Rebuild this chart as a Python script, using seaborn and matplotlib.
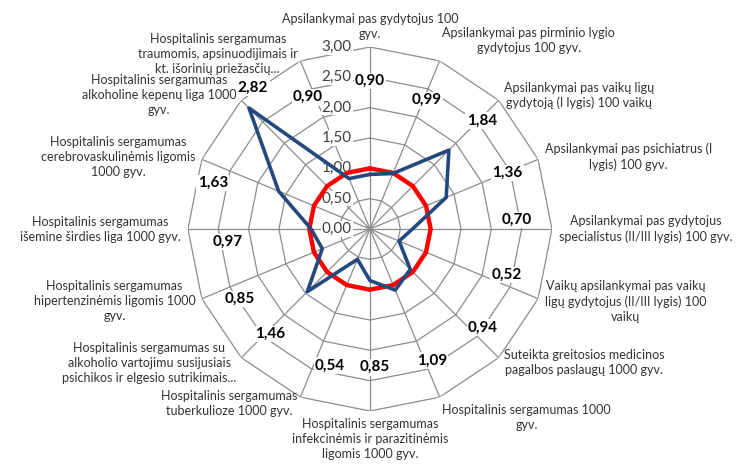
import numpy as np
import matplotlib
matplotlib.use("Agg")
import matplotlib.pyplot as plt
import seaborn as sns

# rodikliai (kategorijos) ir reiksmes
kategorijos = [
    "Apsilankymai pas gydytojus 100\ngyv.",
    "Apsilankymai pas pirminio lygio\ngydytojus 100 gyv.",
    "Apsilankymai pas vaikų ligų\ngydytoją (I lygis) 100 vaikų",
    "Apsilankymai pas psichiatrus (I\nlygis) 100 gyv.",
    "Apsilankymai pas gydytojus\nspecialistus (II/III lygis) 100 gyv.",
    "Vaikų apsilankymai pas vaikų\nligų gydytojus (II/III lygis) 100\nvaikų",
    "Suteikta greitosios medicinos\npagalbos paslaugų 1000 gyv.",
    "Hospitalinis sergamumas 1000\ngyv.",
    "Hospitalinis sergamumas\ninfekcinėmis ir parazitinėmis\nligomis 1000 gyv.",
    "Hospitalinis sergamumas\ntuberkulioze 1000 gyv.",
    "Hospitalinis sergamumas su\nalkoholio vartojimu susijusiais\npsichikos ir elgesio sutrikimais...",
    "Hospitalinis sergamumas\nhipertenzinėmis ligomis 1000\ngyv.",
    "Hospitalinis sergamumas\nišemine širdies liga 1000 gyv.",
    "Hospitalinis sergamumas\ncerebrovaskulinėmis ligomis\n1000 gyv.",
    "Hospitalinis sergamumas\nalkoholine kepenų liga 1000\ngyv.",
    "Hospitalinis sergamumas\ntraumomis, apsinuodijimais ir\nkt. išorinių priežasčių...",
]
reiksmes = [0.90, 0.99, 1.84, 1.36, 0.70, 0.52, 0.94, 1.09,
            0.85, 0.54, 1.46, 0.85, 0.97, 1.63, 2.82, 0.90]
vidurkis = [1.00] * len(reiksmes)   # palyginimo lygis (raudona)
lygiai = [0.0, 0.5, 1.0, 1.5, 2.0, 2.5, 3.0]

# kur deti reiksmiu etiketes (kampas laipsniais, spindulys)
etik_kampas = [0.0, 23.8, 45.8, 67.8, 86.5, 108.6, 131.0, 154.8,
               178.0, 196.3, 223.6, 241.7, 264.8, 286.3, 320.3, 334.8]
etik_r = [2.44, 2.32, 2.57, 2.44, 2.43, 2.38, 2.47, 2.40,
          2.28, 2.35, 2.39, 2.43, 2.35, 2.70, 3.02, 2.40]

sns.set_style("white")
plt.rcParams['font.family'] = ['Lato', 'DejaVu Sans']

n = len(reiksmes)
kampai = np.deg2rad(np.arange(n) * 360.0 / n)
kampai_u = np.append(kampai, 2 * np.pi)

fig = plt.figure(figsize=(7.45, 4.72), dpi=100)
ax = fig.add_axes([0.2523, 0.1292, 0.4886, 0.7712], projection='polar')
ax.set_theta_zero_location('N')
ax.set_theta_direction(-1)
ax.set_ylim(0, 3)
ax.grid(False)
ax.spines['polar'].set_visible(False)
ax.set_xticks([])
ax.set_yticks([])
ax.patch.set_alpha(0)

tinklas = '#8c8c8c'
# daugiakampis tinklelis
for lv in lygiai[1:]:
    ax.plot(kampai_u, [lv] * (n + 1), color=tinklas, lw=0.9, zorder=1)
for th in kampai:
    ax.plot([th, th], [0, 3], color=tinklas, lw=0.9, zorder=1)

# asies skale
for lv in lygiai:
    ax.annotate(f"{lv:.2f}".replace('.', ','), xy=(0, lv), xytext=(-13, 0),
                textcoords='offset points', ha='right', va='center',
                fontsize=11, color='#404040', zorder=2,
                bbox=dict(fc='white', ec='none', pad=0.5))

# duomenu linijos
sns.lineplot(x=kampai_u, y=vidurkis + vidurkis[:1], ax=ax, sort=False,
             estimator=None, color='#ff0000', lw=3.2, zorder=3)
sns.lineplot(x=kampai_u, y=reiksmes + reiksmes[:1], ax=ax, sort=False,
             estimator=None, color='#23497e', lw=2.6, zorder=3)
ax.set_xlabel("")
ax.set_ylabel("")

# reiksmiu etiketes
for k, v, r in zip(etik_kampas, reiksmes, etik_r):
    ax.text(np.deg2rad(k), r, f"{v:.2f}".replace('.', ','), ha='center', va='center',
            fontsize=11, fontweight='bold', color='black', zorder=4,
            bbox=dict(fc='white', ec='none', pad=1.0))

# kategoriju pavadinimai aplink
for i, (th, txt) in enumerate(zip(kampai, kategorijos)):
    deg = i * 360.0 / n
    s, c = np.sin(th), np.cos(th)
    if deg == 0:
        ha, va = 'center', 'bottom'
    elif deg == 180:
        ha, va = 'center', 'top'
    elif deg < 180:
        ha = 'left'
    else:
        ha = 'right'
    if deg not in (0, 180):
        if abs(deg - 22.5) < 1:
            va = 'bottom'
        elif abs(deg - 157.5) < 1:
            va = 'top'
        else:
            va = 'center'
    ax.annotate(txt, xy=(th, 3.0), xytext=(5 * s, 5 * c),
                textcoords='offset points', ha=ha, va=va, multialignment='center',
                fontsize=9, color='#333333', linespacing=1.3,
                annotation_clip=False)

plt.savefig("out.png", dpi=100)
